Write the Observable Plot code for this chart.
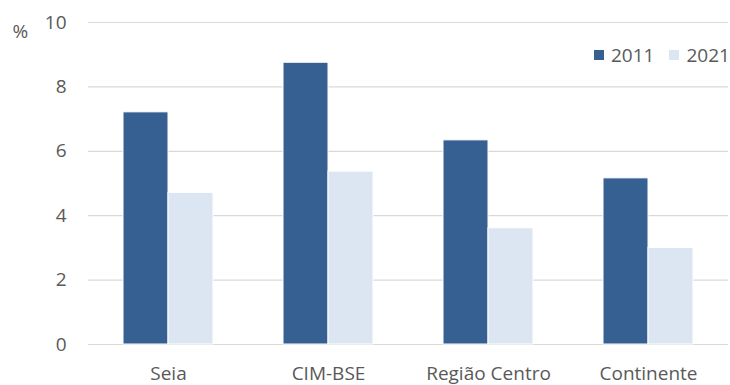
<!DOCTYPE html>
<html><head><meta charset="utf-8">
<script src="https://cdn.jsdelivr.net/npm/d3@7"></script>
<script src="https://cdn.jsdelivr.net/npm/@observablehq/plot@0.6"></script>
<style>
body{margin:0;background:#fff;}
#wrap{position:relative;width:730px;height:385px;font-family:"Open Sans";}
.legend{position:absolute;top:45px;left:594px;display:flex;align-items:center;font-size:19px;line-height:20px;color:#595959;}
.sw{display:inline-block;width:10px;height:10px;margin-right:7px;}
.item{display:flex;align-items:center;margin-right:15px;}
</style></head><body><div id="wrap"></div>
<script>
const categories = ["Seia", "CIM-BSE", "Região Centro", "Continente"];
const years = ["2011", "2021"];
const values2011 = [7.21, 8.75, 6.34, 5.16];
const values2021 = [4.71, 5.37, 3.61, 3.0];
const yTicks = [0, 2, 4, 6, 8, 10];
const colors = ["#366092", "#DCE6F2"];
const unitLabel = "%";

const data = categories.flatMap((c, i) => [
  {category: c, year: years[0], value: values2011[i]},
  {category: c, year: years[1], value: values2021[i]}
]);

const chart = Plot.plot({
  width: 730, height: 385,
  marginLeft: 88, marginRight: 2, marginTop: 22, marginBottom: 41,
  style: {fontFamily: "Open Sans", fontSize: "19px", color: "#595959", background: "white"},
  x: {domain: categories, paddingInner: 0.4375, paddingOuter: 0.21875, label: null, tickSize: 0, tickPadding: 22},
  y: {domain: [0, 10], ticks: yTicks, label: null, tickSize: 0, tickPadding: 22},
  color: {domain: years, range: colors},
  marks: [
    Plot.ruleY(yTicks, {stroke: "#d9d9d9", strokeWidth: 1.2}),
    Plot.barY(data.filter(d => d.year === years[0]), {x: "category", y: "value", fill: "year", insetRight: 45, stroke: "white", strokeWidth: 1}),
    Plot.barY(data.filter(d => d.year === years[1]), {x: "category", y: "value", fill: "year", insetLeft: 45, stroke: "white", strokeWidth: 1}),
    Plot.text([unitLabel], {frameAnchor: "top-left", text: d => d, textAnchor: "start", lineAnchor: "middle", dx: -76, dy: 9, fontSize: 19, fill: "#595959"})
  ]
});

const wrap = document.getElementById("wrap");
wrap.appendChild(chart);
const legend = document.createElement("div");
legend.className = "legend";
years.forEach((y, i) => {
  const item = document.createElement("div");
  item.className = "item";
  const sw = document.createElement("span");
  sw.className = "sw";
  sw.style.background = colors[i];
  const t = document.createElement("span");
  t.textContent = y;
  item.appendChild(sw); item.appendChild(t);
  legend.appendChild(item);
});
wrap.appendChild(legend);
</script>
</body></html>
